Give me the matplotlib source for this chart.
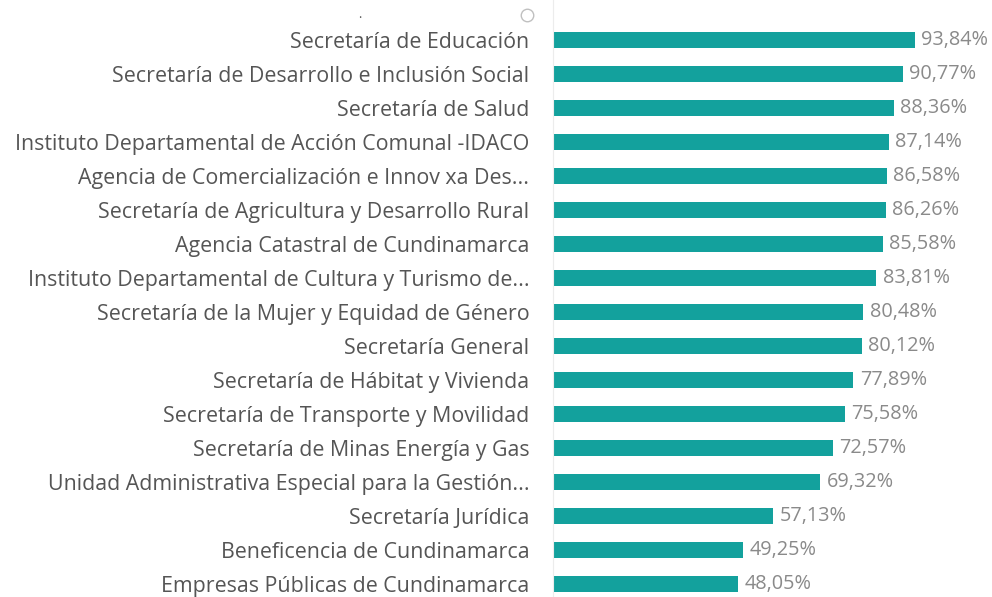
import matplotlib.pyplot as plt
from matplotlib.lines import Line2D

categorias = [
    "Secretaría de Educación",
    "Secretaría de Desarrollo e Inclusión Social",
    "Secretaría de Salud",
    "Instituto Departamental de Acción Comunal -IDACO",
    "Agencia de Comercialización e Innov xa Des...",
    "Secretaría de Agricultura y Desarrollo Rural",
    "Agencia Catastral de Cundinamarca",
    "Instituto Departamental de Cultura y Turismo de...",
    "Secretaría de la Mujer y Equidad de Género",
    "Secretaría General",
    "Secretaría de Hábitat y Vivienda",
    "Secretaría de Transporte y Movilidad",
    "Secretaría de Minas Energía y Gas",
    "Unidad Administrativa Especial para la Gestión...",
    "Secretaría Jurídica",
    "Beneficencia de Cundinamarca",
    "Empresas Públicas de Cundinamarca",
]
valores = [93.84, 90.77, 88.36, 87.14, 86.58, 86.26, 85.58, 83.81, 80.48,
           80.12, 77.89, 75.58, 72.57, 69.32, 57.13, 49.25, 48.05]

plt.rcParams['font.family'] = ['Open Sans', 'DejaVu Sans']

fig = plt.figure(figsize=(9.92, 5.97), dpi=100)
# axes spans from the bar start to the right edge
ax = fig.add_axes([553 / 992, 0, 439 / 992, 1])

n = len(categorias)
pos = [n - 1 - i for i in range(n)]
ax.barh(pos, valores, height=0.48, color='#13a19d')

for p, v in zip(pos, valores):
    ax.text(v + 1.6, p, f"{v:.2f}%".replace('.', ','), va='center', ha='left',
            fontsize=14.3, color='#8a8a8a')

ax.set_xlim(0, 439 / 3.858)
ax.set_ylim(-13 / 34, (597 - 13) / 34)
ax.set_yticks(pos)
ax.set_yticklabels(categorias, fontsize=15.4, color='#555555')
ax.tick_params(axis='y', length=0, pad=17)
ax.set_xticks([])
for s in ['top', 'right', 'bottom']:
    ax.spines[s].set_visible(False)
ax.spines['left'].set_color('#ececec')
ax.spines['left'].set_linewidth(0.8)

# small marks at the top of the original
fig.text(360 / 992, 1 - 15 / 597, '.', color='#555555', fontsize=9, ha='center', va='center')
fig.add_artist(Line2D([527 / 992], [1 - 15 / 597], transform=fig.transFigure, marker='o',
                      markersize=9, markerfacecolor='none', markeredgecolor='#c0c0c0',
                      markeredgewidth=1, linestyle='none'))

fig.savefig('out.png', dpi=100)
